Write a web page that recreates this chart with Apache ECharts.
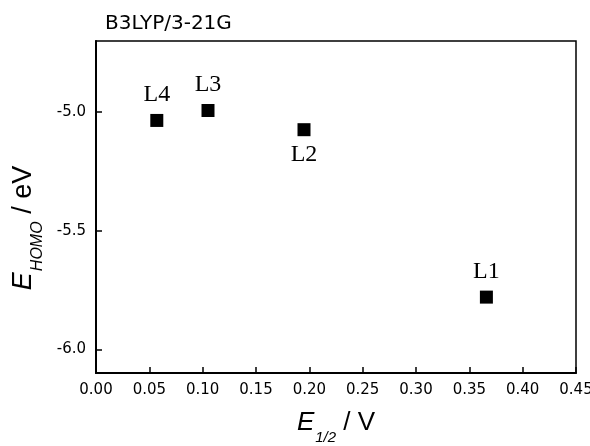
<!DOCTYPE html>
<html>
<head>
<meta charset="utf-8">
<script src="https://cdn.jsdelivr.net/npm/echarts@6/dist/echarts.min.js"></script>
<style>
html,body{margin:0;padding:0;background:#fff;}
#chart{width:590px;height:446px;}
</style>
</head>
<body>
<div id="chart"></div>
<script>
// Data
const ligands = ['L1', 'L2', 'L3', 'L4'];
const halfWavePotential = [0.366, 0.195, 0.105, 0.057]; // E1/2 / V
const homoEnergy = [-5.78, -5.074, -4.993, -5.035];      // E_HOMO / eV
const labelPositions = ['top', 'bottom', 'top', 'top'];
const yTickValues = [-6.0, -5.5, -5.0];
const titleText = 'B3LYP/3-21G';

const points = ligands.map((name, i) => ({
  name: name,
  value: [halfWavePotential[i], homoEnergy[i]],
  label: { position: labelPositions[i] }
}));

const chart = echarts.init(document.getElementById('chart'), null, { renderer: 'canvas' });
const sansFont = 'DejaVu Sans';
chart.setOption({
  animation: false,
  backgroundColor: '#ffffff',
  title: {
    text: titleText,
    left: 100,
    top: 9,
    textStyle: { fontFamily: sansFont, fontSize: 20, fontWeight: 'normal', color: '#000' }
  },
  grid: {
    left: 96, top: 41, right: 14, bottom: 73,
    outerBoundsMode: 'none',
    containLabel: false,
    show: true, borderColor: '#000', borderWidth: 1.5, backgroundColor: 'transparent'
  },
  xAxis: {
    type: 'value',
    min: 0, max: 0.45, interval: 0.05,
    splitLine: { show: false },
    axisLine: { show: true, onZero: false, lineStyle: { color: '#000', width: 2 } },
    axisTick: { show: true, inside: true, length: 6, lineStyle: { color: '#000', width: 1.5 } },
    axisLabel: {
      color: '#000', fontFamily: sansFont, fontSize: 15, margin: 10,
      formatter: v => v.toFixed(2)
    },
    name: '{e|E}{sub|1/2}{n| / V}',
    nameLocation: 'middle',
    nameGap: 37,
    nameTextStyle: {
      rich: {
        e: { fontFamily: 'Liberation Sans', fontStyle: 'italic', fontSize: 26, color: '#000', verticalAlign: 'bottom' },
        sub: { fontFamily: 'Liberation Sans', fontStyle: 'italic', fontSize: 15, color: '#000', verticalAlign: 'bottom', padding: [0, 0, -9, 1] },
        n: { fontFamily: 'Liberation Sans', fontSize: 26, color: '#000', verticalAlign: 'bottom' }
      }
    }
  },
  yAxis: {
    type: 'value',
    min: -6.1, max: -4.7,
    splitLine: { show: false },
    axisLine: { show: true, onZero: false, lineStyle: { color: '#000', width: 2 } },
    axisTick: { show: true, inside: true, length: 6, customValues: yTickValues, lineStyle: { color: '#000', width: 1.5 } },
    axisLabel: {
      color: '#000', fontFamily: sansFont, fontSize: 15, margin: 10,
      customValues: yTickValues,
      formatter: v => v.toFixed(1)
    },
    name: '{e|E}{sub|HOMO}{n| / eV}',
    nameLocation: 'middle',
    nameRotate: 90,
    nameGap: 58,
    nameTextStyle: {
      padding: [0, 42, 0, 0],
      rich: {
        e: { fontFamily: 'Liberation Sans', fontStyle: 'italic', fontSize: 27, color: '#000', verticalAlign: 'bottom' },
        sub: { fontFamily: 'Liberation Sans', fontStyle: 'italic', fontSize: 16, color: '#000', verticalAlign: 'bottom', padding: [0, 0, -9, 1] },
        n: { fontFamily: 'Liberation Sans', fontSize: 27, color: '#000', verticalAlign: 'bottom' }
      }
    }
  },
  series: [{
    type: 'scatter',
    symbol: 'rect',
    symbolSize: 13,
    itemStyle: { color: '#000', opacity: 1 },
    label: {
      show: true,
      formatter: p => p.name,
      fontFamily: 'Liberation Serif',
      fontSize: 24,
      color: '#000',
      distance: 7
    },
    data: points
  }]
});
</script>
</body>
</html>
